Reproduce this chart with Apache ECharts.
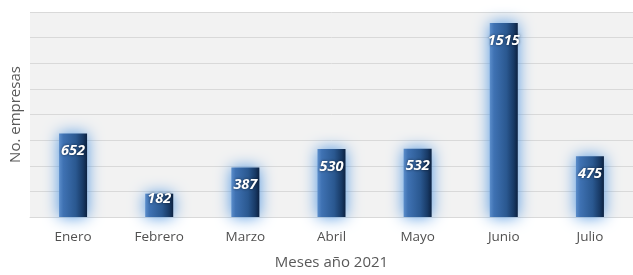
<!DOCTYPE html>
<html>
<head>
<meta charset="utf-8">
<script src="https://cdn.jsdelivr.net/npm/echarts@6/dist/echarts.min.js"></script>
<style>
  html, body { margin: 0; padding: 0; background: #fff; }
  #chart { width: 633px; height: 275px; }
</style>
</head>
<body>
<div id="chart"></div>
<script>
const months = ['Enero', 'Febrero', 'Marzo', 'Abril', 'Mayo', 'Junio', 'Julio'];
const empresas = [652, 182, 387, 530, 532, 1515, 475];

const chart = echarts.init(document.getElementById('chart'));

const barFill = new echarts.graphic.LinearGradient(0, 0, 1, 0, [
  { offset: 0, color: '#5b8dca' },
  { offset: 0.15, color: '#3f72b3' },
  { offset: 0.6, color: '#2a5890' },
  { offset: 0.85, color: '#183a66' },
  { offset: 1, color: '#0c2242' }
]);

chart.setOption({
  animation: false,
  textStyle: { fontFamily: 'Open Sans' },
  grid: {
    left: 27, top: 12, width: 612, height: 207,
    show: true, backgroundColor: '#f2f2f2', borderWidth: 0
  },
  xAxis: {
    type: 'category',
    data: months,
    name: 'Meses año 2021',
    nameLocation: 'middle',
    nameGap: 38,
    nameTextStyle: { color: '#595959', fontSize: 15 },
    axisLine: { lineStyle: { color: '#d9d9d9' } },
    axisTick: { show: false },
    axisLabel: { color: '#505050', fontSize: 13.5, margin: 13 }
  },
  yAxis: {
    type: 'value',
    min: 0, max: 1600, interval: 200,
    name: 'No. empresas',
    nameLocation: 'middle',
    nameGap: 7,
    nameTextStyle: { color: '#595959', fontSize: 15 },
    axisLabel: { show: false },
    axisLine: { show: false },
    axisTick: { show: false },
    splitLine: { lineStyle: { color: '#d9d9d9', width: 1 } }
  },
  series: [{
    type: 'bar',
    barWidth: 28,
    data: empresas.map(v => ({
      value: v,
      label: { distance: v < 300 ? -2 : 10 }
    })),
    itemStyle: {
      color: barFill,
      shadowColor: 'rgba(80,150,225,1)',
      shadowBlur: 16
    },
    label: {
      show: true,
      position: 'insideTop',
      color: '#fff',
      fontSize: 14.5,
      fontWeight: 'bold',
      fontStyle: 'italic',
      fontFamily: 'Open Sans',
      textShadowColor: 'rgba(0,0,0,0.6)',
      textShadowBlur: 3
    }
  }]
});
</script>
</body>
</html>
